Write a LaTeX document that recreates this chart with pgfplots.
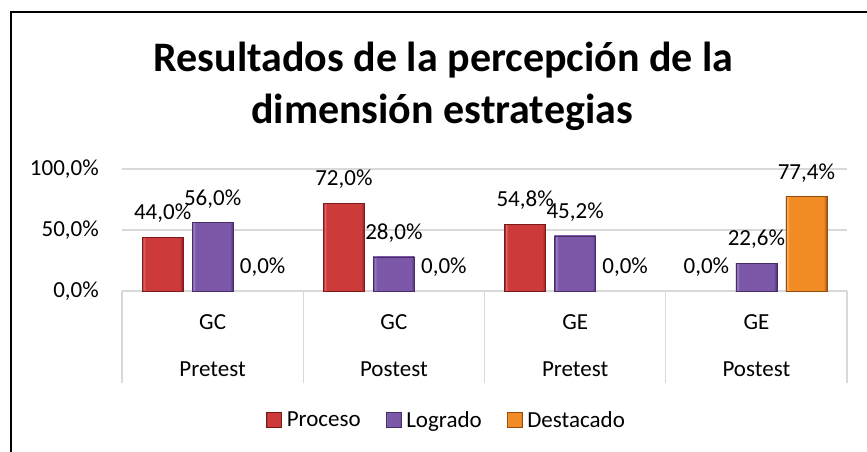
\documentclass[border=0pt]{standalone}
\usepackage{fontspec}
\setmainfont{Carlito}
\usepackage{pgfplots}
\pgfplotsset{compat=1.18}
\pgfplotsset{/pgf/number format/assume math mode=true}
\definecolor{rmain}{RGB}{205,58,58}
\definecolor{rdark}{RGB}{125,25,25}
\definecolor{rshade}{RGB}{165,40,40}
\definecolor{rlight}{RGB}{232,105,105}
\definecolor{pmain}{RGB}{125,88,168}
\definecolor{pdark}{RGB}{70,45,105}
\definecolor{pshade}{RGB}{95,65,135}
\definecolor{plight}{RGB}{165,135,205}
\definecolor{omain}{RGB}{240,140,35}
\definecolor{odark}{RGB}{150,75,15}
\definecolor{oshade}{RGB}{195,105,25}
\definecolor{olight}{RGB}{255,190,80}
\definecolor{gridc}{RGB}{217,217,217}
\pgfdeclarehorizontalshading{redbar}{100bp}{color(0bp)=(rdark); color(25bp)=(rdark); color(26.5bp)=(rlight); color(29bp)=(rmain); color(71bp)=(rmain); color(73.5bp)=(rshade); color(75bp)=(rdark); color(100bp)=(rdark)}
\pgfdeclarehorizontalshading{purplebar}{100bp}{color(0bp)=(pdark); color(25bp)=(pdark); color(26.5bp)=(plight); color(29bp)=(pmain); color(71bp)=(pmain); color(73.5bp)=(pshade); color(75bp)=(pdark); color(100bp)=(pdark)}
\pgfdeclarehorizontalshading{orangebar}{100bp}{color(0bp)=(odark); color(25bp)=(odark); color(26.5bp)=(olight); color(29bp)=(omain); color(71bp)=(omain); color(73.5bp)=(oshade); color(75bp)=(odark); color(100bp)=(odark)}
\tikzset{
  redstyle/.style={shading=redbar, draw=rdark, line width=0.6pt},
  purplestyle/.style={shading=purplebar, draw=pdark, line width=0.6pt},
  orangestyle/.style={shading=orangebar, draw=odark, line width=0.6pt},
}
\newcommand{\lab}{\fontsize{23}{27.6}\selectfont}
\newcommand{\pct}{\pgfmathprintnumber[fixed,fixed zerofill,precision=1,use comma]{\pgfplotspointmeta}\%}
\begin{document}
\begin{tikzpicture}[x=1pt,y=1pt]
\useasboundingbox (0,0) rectangle (867,451);
\draw[black, line width=2pt] (11,-2) -- (11,439) -- (869,439);
\node[anchor=base, font=\bfseries\fontsize{42}{50}\selectfont] at (443.5,379.5) {Resultados de la percepción de la};
\node[anchor=base, font=\bfseries\fontsize{42}{50}\selectfont] at (442,328) {dimensión estrategias};
\begin{axis}[
  at={(122pt,160pt)}, anchor=south west,
  scale only axis, width=725pt, height=122pt,
  xmin=-0.5, xmax=3.5, ymin=0, ymax=100,
  clip=false,
  ybar, bar width=41pt,
  axis line style={draw=none},
  major tick length=0pt,
  xtick=\empty,
  ytick={0,50,100},
  yticklabel={\pgfmathprintnumber[fixed,fixed zerofill,precision=1,use comma]{\tick}\%},
  yticklabel style={anchor=east, inner sep=0pt, xshift=-23pt, font=\lab},
  ymajorgrids, grid style={draw=gridc, line width=1.2pt},
  every node near coord/.append style={anchor=base, inner sep=0pt, yshift=17.5pt, font=\lab, text=black},
  legend columns=3,
  legend style={at={(0.1986,-1.057)}, anchor=west, draw=none, fill=none, inner sep=0pt, font=\lab,
    nodes={inner sep=0pt},
    /tikz/every odd column/.append style={column sep=5pt},
    /tikz/every even column/.append style={column sep=25pt}},
  legend image code/.code={\draw[#1] (0pt,-7.5pt) rectangle (15pt,7.5pt);},
]
% bars, one plot per bar so each bar gets its own bevel shading
\addplot[forget plot, bar shift=-50pt, redstyle] coordinates {(0,44)};
\addplot[forget plot, bar shift=-50pt, redstyle] coordinates {(1,72)};
\addplot[forget plot, bar shift=-50pt, redstyle] coordinates {(2,54.8)};
\addplot[forget plot, bar shift=0pt, purplestyle] coordinates {(0,56)};
\addplot[forget plot, bar shift=0pt, purplestyle] coordinates {(1,28)};
\addplot[forget plot, bar shift=0pt, purplestyle] coordinates {(2,45.2)};
\addplot[forget plot, bar shift=0pt, purplestyle] coordinates {(3,22.6)};
\addplot[forget plot, bar shift=50pt, orangestyle] coordinates {(3,77.4)};
\addlegendimage{redstyle}\addlegendentry{Proceso}
\addlegendimage{purplestyle}\addlegendentry{Logrado}
\addlegendimage{orangestyle}\addlegendentry{Destacado}
% data labels
\addplot[forget plot, bar shift=-50pt, draw=none, fill=none, nodes near coords=\pct] coordinates {(0,44) (1,72) (2,54.8) (3,0)};
\addplot[forget plot, bar shift=0pt, draw=none, fill=none, nodes near coords=\pct] coordinates {(0,56) (1,28) (2,45.2) (3,22.6)};
\addplot[forget plot, bar shift=50pt, draw=none, fill=none, nodes near coords=\pct] coordinates {(0,0) (1,0) (2,0) (3,77.4)};
% category box
\draw[gridc, line width=1.2pt] (axis cs:-0.5,0) -- ++(0pt,-92pt);
\draw[gridc, line width=1.2pt] (axis cs:0.5,0) -- ++(0pt,-92pt);
\draw[gridc, line width=1.2pt] (axis cs:1.5,0) -- ++(0pt,-92pt);
\draw[gridc, line width=1.2pt] (axis cs:2.5,0) -- ++(0pt,-92pt);
\draw[gridc, line width=1.2pt] (axis cs:3.5,0) -- ++(0pt,-92pt);
\node[anchor=base, font=\lab, yshift=-38.5pt] at (axis cs:0,0) {GC};
\node[anchor=base, font=\lab, yshift=-38.5pt] at (axis cs:1,0) {GC};
\node[anchor=base, font=\lab, yshift=-38.5pt] at (axis cs:2,0) {GE};
\node[anchor=base, font=\lab, yshift=-38.5pt] at (axis cs:3,0) {GE};
\node[anchor=base, font=\lab, yshift=-85.5pt] at (axis cs:0,0) {Pretest};
\node[anchor=base, font=\lab, yshift=-85.5pt] at (axis cs:1,0) {Postest};
\node[anchor=base, font=\lab, yshift=-85.5pt] at (axis cs:2,0) {Pretest};
\node[anchor=base, font=\lab, yshift=-85.5pt] at (axis cs:3,0) {Postest};
\end{axis}
\end{tikzpicture}
\end{document}
